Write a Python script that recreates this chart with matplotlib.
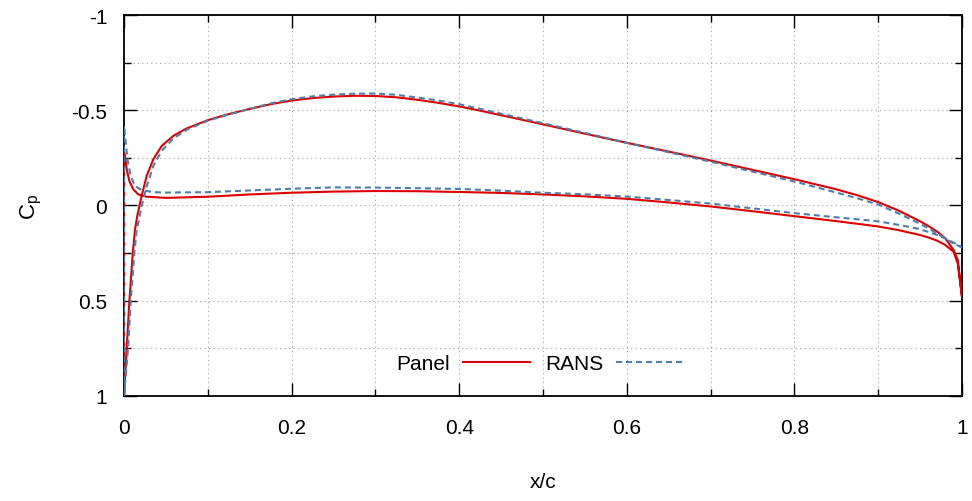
import numpy as np
import matplotlib
matplotlib.use("Agg")
import matplotlib.pyplot as plt
from matplotlib.ticker import FixedLocator, MultipleLocator

plt.rcParams['font.family'] = ['Liberation Sans', 'DejaVu Sans']

# Pressure coefficient along the airfoil, suction branch and pressure branch
panel_up_x = [0.0, 0.0032, 0.0064, 0.0104, 0.0131, 0.016, 0.021, 0.027, 0.035, 0.045,
              0.059, 0.075, 0.1, 0.125, 0.15, 0.175, 0.2, 0.225, 0.25, 0.275, 0.3,
              0.325, 0.35, 0.375, 0.4, 0.425, 0.45, 0.5, 0.55, 0.6, 0.65, 0.7, 0.75,
              0.8, 0.85, 0.875, 0.9, 0.925, 0.95, 0.96, 0.97, 0.98, 0.99, 0.995, 1.0]
panel_up_cp = [1.0, 0.75, 0.5, 0.25, 0.126, 0.05, -0.05, -0.155, -0.243, -0.313,
               -0.366, -0.405, -0.448, -0.48, -0.507, -0.532, -0.551, -0.564, -0.572,
               -0.576, -0.575, -0.568, -0.555, -0.539, -0.52, -0.498, -0.474, -0.426,
               -0.377, -0.329, -0.283, -0.236, -0.187, -0.138, -0.085, -0.054, -0.018,
               0.028, 0.083, 0.108, 0.136, 0.172, 0.234, 0.286, 0.48]

panel_lo_x = [0.0, 0.0012, 0.0032, 0.0064, 0.011, 0.017, 0.027, 0.05, 0.1, 0.15, 0.2,
              0.25, 0.3, 0.35, 0.4, 0.45, 0.5, 0.55, 0.6, 0.65, 0.7, 0.75, 0.8, 0.85,
              0.9, 0.925, 0.95, 0.96, 0.97, 0.98, 0.99, 0.995, 1.0]
panel_lo_cp = [-0.28, -0.26, -0.19, -0.128, -0.085, -0.058, -0.046, -0.04, -0.046,
               -0.058, -0.067, -0.073, -0.076, -0.075, -0.071, -0.066, -0.058, -0.048,
               -0.035, -0.016, 0.005, 0.03, 0.056, 0.082, 0.11, 0.13, 0.155, 0.168,
               0.184, 0.207, 0.243, 0.305, 0.48]

rans_up_x = [0.0, 0.0048, 0.008, 0.0123, 0.015, 0.018, 0.021, 0.027, 0.035, 0.045,
             0.059, 0.075, 0.1, 0.125, 0.15, 0.175, 0.2, 0.225, 0.25, 0.275, 0.3,
             0.325, 0.35, 0.375, 0.4, 0.425, 0.45, 0.5, 0.55, 0.6, 0.65, 0.7, 0.75,
             0.8, 0.85, 0.875, 0.9, 0.925, 0.95, 0.97, 0.98, 0.99, 1.0]
rans_up_cp = [1.0, 0.75, 0.5, 0.25, 0.13, 0.07, 0.004, -0.1, -0.208, -0.287, -0.352,
              -0.398, -0.445, -0.478, -0.507, -0.536, -0.558, -0.573, -0.582, -0.587,
              -0.588, -0.581, -0.567, -0.551, -0.532, -0.507, -0.482, -0.432, -0.381,
              -0.329, -0.28, -0.23, -0.178, -0.126, -0.068, -0.038, -0.005, 0.043,
              0.096, 0.145, 0.175, 0.2, 0.22]

rans_lo_x = [0.0, 0.0016, 0.004, 0.008, 0.013, 0.021, 0.035, 0.05, 0.1, 0.15, 0.2,
             0.25, 0.3, 0.35, 0.4, 0.45, 0.5, 0.55, 0.6, 0.65, 0.7, 0.75, 0.8, 0.85,
             0.9, 0.925, 0.95, 0.97, 0.98, 0.99, 1.0]
rans_lo_cp = [-0.42, -0.349, -0.243, -0.155, -0.102, -0.081, -0.07, -0.068, -0.07,
              -0.079, -0.088, -0.095, -0.094, -0.091, -0.087, -0.078, -0.067, -0.059,
              -0.047, -0.029, -0.01, 0.015, 0.04, 0.062, 0.083, 0.102, 0.124, 0.154,
              0.172, 0.195, 0.22]

x_ticks = [0, 0.2, 0.4, 0.6, 0.8, 1.0]
x_tick_labels = ["0", "0.2", "0.4", "0.6", "0.8", "1"]
y_ticks = [-1, -0.5, 0, 0.5, 1]
y_tick_labels = ["-1", "-0.5", "0", "0.5", "1"]


def loop(ux, ucp, lx, lcp):
    # trace around the contour: suction side from trailing edge to leading edge, then pressure side
    x = np.concatenate([np.asarray(ux)[::-1], np.asarray(lx)])
    y = np.concatenate([np.asarray(ucp)[::-1], np.asarray(lcp)])
    return x, y


fig = plt.figure(figsize=(9.72, 5.02), dpi=100)
ax = fig.add_axes([0.1276, 0.2092, 0.8621, 0.7589])

px, pcp = loop(panel_up_x, panel_up_cp, panel_lo_x, panel_lo_cp)
rx, rcp = loop(rans_up_x, rans_up_cp, rans_lo_x, rans_lo_cp)

ax.plot(px, pcp, color='#dd0000', lw=1.5, label='Panel', zorder=3,
        solid_joinstyle='round')
ax.plot(rx, rcp, color='#4a7fae', lw=1.5, dashes=(2.9, 1.9), label='RANS', zorder=4)

ax.set_xlim(0, 1)
ax.set_ylim(1, -1)

ax.xaxis.set_major_locator(FixedLocator(x_ticks))
ax.set_xticklabels(x_tick_labels)
ax.yaxis.set_major_locator(FixedLocator(y_ticks))
ax.set_yticklabels(y_tick_labels)
ax.xaxis.set_minor_locator(MultipleLocator(0.1))
ax.yaxis.set_minor_locator(MultipleLocator(0.25))

ax.tick_params(which='both', direction='in', top=True, right=True, width=1.0,
               color='black')
ax.tick_params(which='major', length=9.5, labelsize=15)
ax.tick_params(axis='x', which='major', pad=16)
ax.tick_params(axis='y', which='major', pad=12)
ax.tick_params(which='minor', length=5)

ax.grid(which='both', color='#a0a0a0', lw=0.8, linestyle=(0, (1, 3)))
ax.set_axisbelow(True)

for s in ax.spines.values():
    s.set_linewidth(1.3)

ax.set_xlabel('x/c', fontsize=15)
ax.xaxis.set_label_coords(0.5, -0.2)
ax.set_ylabel(r'C$_\mathregular{p}$', fontsize=16)
ax.yaxis.set_label_coords(-0.096, 0.5)

ax.legend(loc='center', bbox_to_anchor=(0.496, 0.084), ncol=2, frameon=False,
          markerfirst=False, fontsize=15, handlelength=3.2, handletextpad=0.6,
          columnspacing=0.75)

fig.savefig('out.png', dpi=100)
